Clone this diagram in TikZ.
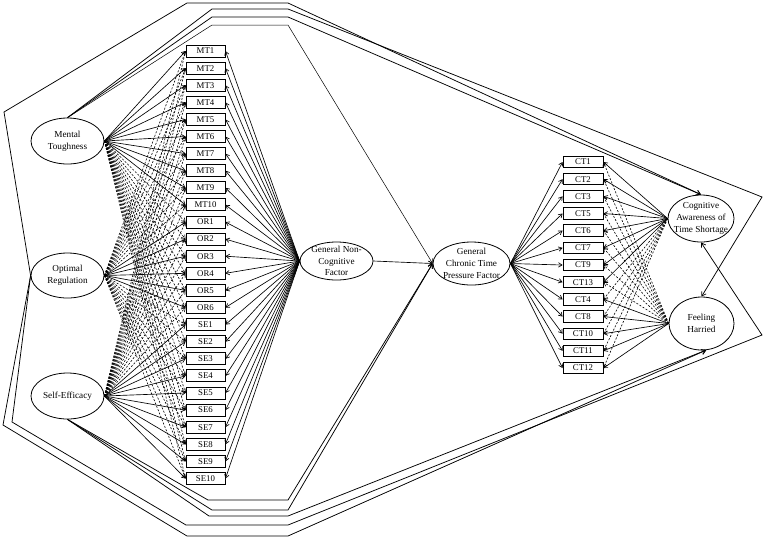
\documentclass[tikz,border=0pt]{standalone}
\usepackage{fontspec}
\setmainfont{Liberation Serif}
\usetikzlibrary{shapes.geometric,arrows.meta}
\begin{document}
\begin{tikzpicture}[x=1pt,y=-1pt,
  fac/.style={draw, ellipse, inner sep=0pt, line width=0.8pt},
  lab/.style={align=center, inner sep=0pt, font=\fontsize{9.2}{11.8}\selectfont},
  box/.style={draw, rectangle, minimum width=39pt, minimum height=12pt, inner sep=0pt, font=\fontsize{8.8}{9}\selectfont, line width=0.9pt},
  arr/.style={-{Straight Barb[length=3.5pt,width=4.5pt]}, line width=0.65pt},
  darr/.style={-{Straight Barb[length=3.5pt,width=4.5pt]}, dash pattern=on 2pt off 1.6pt, line width=0.6pt},
  corr/.style={-{Straight Barb[length=4pt,width=5pt]}, line width=0.75pt, line join=miter}]
\useasboundingbox (0,0) rectangle (767,539);

% factors
\node[fac, minimum width=73pt, minimum height=46pt, label={[lab]center:{Mental\\Toughness}}] (mt) at (67.5,141) {};
\node[fac, minimum width=73pt, minimum height=45pt, label={[lab]center:{Optimal\\Regulation}}] (opt) at (67.5,275.5) {};
\node[fac, minimum width=73pt, minimum height=46pt, label={[lab]center:{Self-Efficacy}}] (se) at (67.5,396) {};
\node[fac, minimum width=73pt, minimum height=38pt, label={[lab]center:{General Non-\\Cognitive\\Factor}}] (gnc) at (336.5,261) {};
\node[fac, minimum width=77pt, minimum height=43pt, label={[lab]center:{General\\Chronic Time\\Pressure Factor}}] (gct) at (471.5,263.5) {};
\node[fac, minimum width=66pt, minimum height=47pt, label={[lab]center:{Cognitive\\Awareness of\\Time Shortage}}] (cat) at (701,218.5) {};
\node[fac, minimum width=65pt, minimum height=53pt, label={[lab]center:{Feeling\\Harried}}] (fh) at (701.5,323.5) {};

% left indicator boxes
\foreach \lab [count=\i] in {MT1,MT2,MT3,MT4,MT5,MT6,MT7,MT8,MT9,MT10,OR1,OR2,OR3,OR4,OR5,OR6,SE1,SE2,SE3,SE4,SE5,SE6,SE7,SE8,SE9,SE10}
  \node[box] (L\i) at (205.5,{51+17.1*(\i-1)}) {\lab};

% right indicator boxes
\foreach \lab [count=\i] in {CT1,CT2,CT3,CT5,CT6,CT7,CT9,CT13,CT4,CT8,CT10,CT11,CT12}
  \node[box, minimum width=40pt, minimum height=11.5pt] (R\i) at (583,{162+17.17*(\i-1)}) {\lab};

% specific factor loadings (left)
\foreach \i in {1,...,10} \draw[arr] (mt.east) -- (L\i.west);
\foreach \i in {11,...,26} \draw[darr] (mt.east) -- (L\i.west);
\foreach \i in {11,...,16} \draw[arr] (opt.east) -- (L\i.west);
\foreach \i in {1,...,10,17,18,...,26} \draw[darr] (opt.east) -- (L\i.west);
\foreach \i in {17,...,26} \draw[arr] (se.east) -- (L\i.west);
\foreach \i in {1,...,16} \draw[darr] (se.east) -- (L\i.west);

% general factor loadings (left)
\foreach \i in {1,...,26} \draw[arr] (gnc.west) -- (L\i.east);

% general -> general
\draw[arr] (gnc.east) -- (gct.west);

% general factor loadings (right)
\foreach \i in {1,...,13} \draw[arr] (gct.east) -- (R\i.west);

% specific factor loadings (right)
\foreach \i in {1,...,8} \draw[arr] (cat.west) -- (R\i.east);
\foreach \i in {9,...,13} \draw[darr] (cat.west) -- (R\i.east);
\foreach \i in {9,...,13} \draw[arr] (fh.west) -- (R\i.east);
\foreach \i in {1,...,8} \draw[darr] (fh.west) -- (R\i.east);

% outer paths
\coordinate (vtop) at (762,197);
\coordinate (vbot) at (762,335);
\draw[corr] (mt.north) -- (212,9) -- (288,9) -- (vtop) -- (fh.north);
\draw[corr] (mt.north) -- (212,17) -- (288,17) -- (cat.north);
\draw[corr, line width=0.5pt] (mt.north) -- (212,25) -- (288,25) -- (gct.west);
\draw[corr] (opt.west) -- (4,112) -- (187,3) -- (288,3) -- (cat.north);
\draw[corr] (opt.west) -- (12,422) -- (186,525) -- (288,525) -- (vbot) -- (cat.south);
\draw[corr] (opt.west) -- (3,425) -- (187,536) -- (288,536) -- (fh.-80);
\draw[corr] (se.south) -- (208,500) -- (288,500) -- (gct.west);
\draw[corr] (se.south) -- (212,510) -- (288,510) -- (gct.west);
\draw[corr] (se.south) -- (209,516) -- (288,516) -- (fh.-80);
\end{tikzpicture}
\end{document}
